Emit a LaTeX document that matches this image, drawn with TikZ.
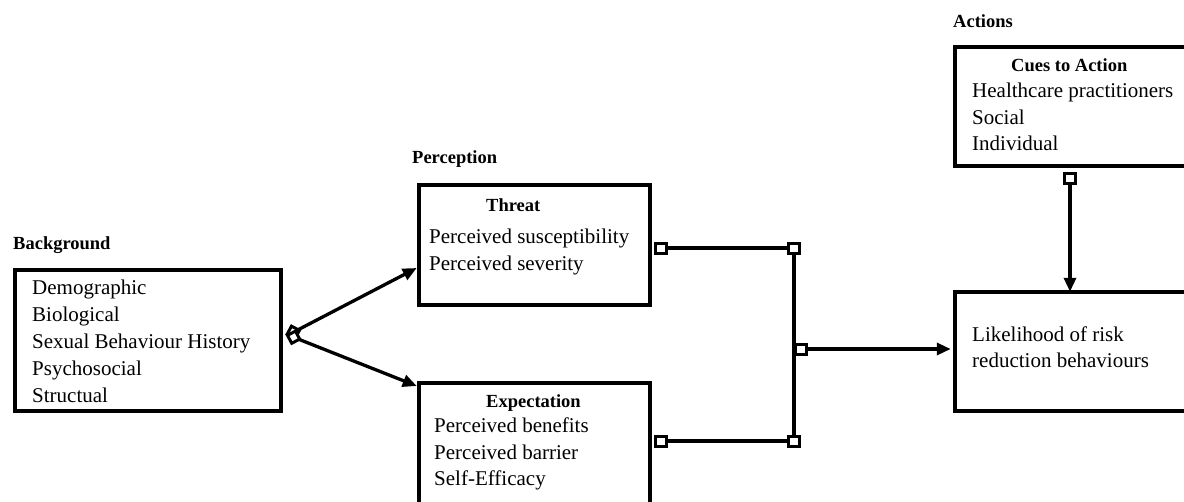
\documentclass[tikz,border=0pt]{standalone}
\usepackage{fontspec}
\setmainfont{Liberation Serif}
\usetikzlibrary{arrows.meta,calc}
\tikzset{
  box/.style={draw, line width=4.5pt, fill=white, inner sep=0pt},
  txt/.style={anchor=base west, inner sep=0pt, font=\fontsize{21}{25}\selectfont},
  hdr/.style={anchor=base west, inner sep=0pt, font=\fontsize{18.5}{22}\selectfont\bfseries},
  conn/.style={line width=3.3pt},
  arr/.style={conn, -{Triangle[length=14pt,width=12pt]}},
  sq/.style={draw, line width=3pt, fill=white, minimum width=11pt, minimum height=10pt, inner sep=0pt},
}
\begin{document}
\begin{tikzpicture}[x=1pt,y=-1pt]
\useasboundingbox (0,0) rectangle (1184,501);
\clip (0,0) rectangle (1184,501);
\fill[white] (0,0) rectangle (1184,501);

% boxes
\node[box, minimum width=266pt, minimum height=141pt] (bgbox) at (148,340.5) {};
\node[box, minimum width=231pt, minimum height=120pt] (thrbox) at (534.5,245) {};
\node[box, minimum width=231pt, minimum height=147pt] (expbox) at (534.5,456.5) {};
\node[box, minimum width=245pt, minimum height=119pt] (cuebox) at (1077.5,106.5) {};
\node[box, minimum width=245pt, minimum height=119pt] (likbox) at (1077.5,351.5) {};
\coordinate (thrL) at ([yshift=-23pt]thrbox.west);
\coordinate (expL) at ([xshift=0pt]expbox.north west |- 0,386);
\coordinate (likL) at ([xshift=-2pt]likbox.west |- 0,349);
\coordinate (likT) at ([yshift=-2pt]likbox.north -| 1070,0);

% labels
\node[hdr] (lbg) at (13,249) {Background};
\node[hdr] (lper) at (412,163) {Perception};
\node[hdr] (lact) at (953,27) {Actions};

\node[txt] (t1) at (32,294) {Demographic};
\node[txt] (t2) at (32,321) {Biological};
\node[txt] (t3) at (32,348) {Sexual Behaviour History};
\node[txt] (t4) at (32,375) {Psychosocial};
\node[txt] (t5) at (32,402) {Structual};

\node[hdr] (hthr) at (486,211) {Threat};
\node[txt] (u1) at (429,243) {Perceived susceptibility};
\node[txt] (u2) at (429,270) {Perceived severity};

\node[hdr] (hexp) at (486,407) {Expectation};
\node[txt] (v1) at (434,432) {Perceived benefits};
\node[txt] (v2) at (434,459) {Perceived barrier};
\node[txt] (v3) at (434,485) {Self-Efficacy};

\node[hdr] (hcue) at (1011,71) {Cues to Action};
\node[txt] (w1) at (972,97) {Healthcare practitioners};
\node[txt] (w2) at (972,124) {Social};
\node[txt] (w3) at (972,150) {Individual};

\node[txt] (x1) at (972,341) {Likelihood of risk};
\node[txt] (x2) at (972,367) {reduction behaviours};

% fan from background
\coordinate (fan) at (288,335);
\draw[arr] (fan) -- (thrL);
\draw[arr] (fan) -- (expL);
\node[sq, minimum width=9pt, minimum height=9pt, rotate=-28] (f1) at ($(fan)!6pt!(thrL)$) {};
\node[sq, minimum width=9pt, minimum height=9pt, rotate=28] (f2) at ($(fan)!6pt!(expL)$) {};

% joining bracket
\node[sq] (s1) at (661,248) {};
\node[sq] (s2) at (661,441) {};
\node[sq] (s3) at (794,248) {};
\node[sq] (s4) at (794,441) {};
\draw[conn] (s1) -- (s3);
\draw[conn] (s2) -- (s4);
\draw[conn] (s3) -- (s4);
\node[sq] (s5) at (801,349) {};
\draw[arr] (s5.east) -- (likL);

% cues to likelihood
\node[sq] (s6) at (1070,178) {};
\draw[arr] (s6.south) -- (likT);
\end{tikzpicture}
\end{document}
